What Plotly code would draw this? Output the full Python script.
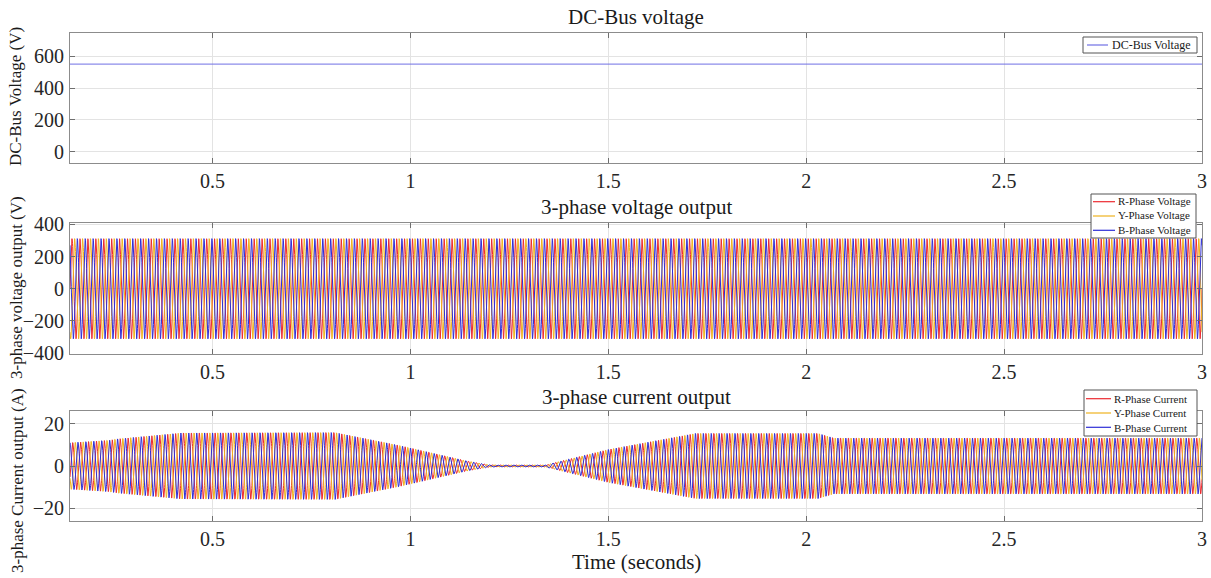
import numpy as np
import plotly.graph_objects as go

# ---------------- data ----------------
t_start, t_end = 0.14, 3.0
freq_hz = 50.0
dc_bus_voltage = 550.0
phase_voltage_peak = 311.0
phase_shifts_deg = [0, -120, 120]          # R, Y, B
phase_names_v = ["R-Phase Voltage", "Y-Phase Voltage", "B-Phase Voltage"]
phase_names_i = ["R-Phase Current", "Y-Phase Current", "B-Phase Current"]
phase_colors = ["#ec2a2f", "#efb320", "#2e2ed6"]
dc_color = "#7070e4"

# current envelope breakpoints (time s, peak A)
env_t = [0.14, 0.24, 0.26, 0.30, 0.42, 0.81, 0.97, 1.14, 1.20, 1.34, 1.50, 1.72, 2.03, 2.07, 3.00]
env_a = [11.0, 12.2, 12.8, 13.5, 15.6, 15.8, 9.8, 2.5, 0.5, 0.5, 7.8, 15.4, 15.4, 13.2, 13.2]

x_ticks = [0.5, 1, 1.5, 2, 2.5, 3]
y1_ticks = [0, 200, 400, 600]
y2_ticks = [-400, -200, 0, 200, 400]
y3_ticks = [-20, 0, 20]

# ---------------- build signals ----------------
t = np.arange(t_start, t_end + 1e-9, 0.0004)
env = np.interp(t, env_t, env_a)

W, H = 1211, 578
font_family = "Liberation Serif, Times New Roman, serif"

fig = go.Figure()

fig.add_trace(go.Scatter(x=[t_start, t_end], y=[dc_bus_voltage, dc_bus_voltage],
                         mode="lines", name="DC-Bus Voltage", showlegend=False,
                         line=dict(color=dc_color, width=1),
                         xaxis="x", yaxis="y"))

for name, col, ph in zip(phase_names_v, phase_colors, phase_shifts_deg):
    v = phase_voltage_peak * np.sin(2 * np.pi * freq_hz * t + np.deg2rad(ph))
    fig.add_trace(go.Scatter(x=t, y=v, mode="lines", name=name, showlegend=False,
                             line=dict(color=col, width=1),
                             xaxis="x2", yaxis="y2"))

for name, col, ph in zip(phase_names_i, phase_colors, phase_shifts_deg):
    i = env * np.sin(2 * np.pi * freq_hz * t + np.deg2rad(ph) - 0.5)
    fig.add_trace(go.Scatter(x=t, y=i, mode="lines", name=name, showlegend=False,
                             line=dict(color=col, width=1),
                             xaxis="x3", yaxis="y3"))

# ---------------- layout ----------------
def px_x(p):
    return p / W

def py_y(p):
    return 1 - p / H

xdom = [px_x(70), px_x(1202)]
panels = [(33, 163), (223, 354), (411, 521)]
yranges = [[-70, 745], [-405, 408], [-26, 26]]
yticks = [y1_ticks, y2_ticks, y3_ticks]

axis_common = dict(showline=True, linecolor="#8c8c8c", linewidth=1, mirror="ticks",
                   ticks="inside", ticklen=5, tickcolor="#6e6e6e", automargin=False,
                   showgrid=True, gridcolor="#e3e3e3", gridwidth=1, zeroline=False,
                   tickfont=dict(family=font_family, size=20, color="#262626"))

layout = dict(width=W, height=H, autosize=False,
              margin=dict(l=0, r=0, t=0, b=0, pad=0, autoexpand=False),
              paper_bgcolor="white", plot_bgcolor="white", showlegend=False,
              font=dict(family=font_family, color="#262626"))

for k, ((top, bot), yr, yt) in enumerate(zip(panels, yranges, yticks)):
    sfx = "" if k == 0 else str(k + 1)
    layout["xaxis" + sfx] = dict(axis_common, domain=xdom, range=[t_start, t_end],
                                 tickvals=x_ticks, anchor="y" + sfx,
                                 ticklabelstandoff=0, ticklabeloverflow="allow")
    layout["yaxis" + sfx] = dict(axis_common, domain=[py_y(bot), py_y(top)], range=yr,
                                 tickvals=yt, anchor="x" + sfx, ticklabelstandoff=1)

annotations = []
shapes = []

titles = [("DC-Bus voltage", 17), ("3-phase voltage output", 207), ("3-phase current output", 397)]
for txt, yy in titles:
    annotations.append(dict(text=txt, x=px_x(636), y=py_y(yy), xref="paper", yref="paper",
                            showarrow=False, xanchor="center", yanchor="middle",
                            font=dict(family=font_family, size=21, color="#1a1a1a")))
ytitles = [("DC-Bus Voltage (V)", 15, 97), ("3-phase voltage output (V)", 16, 288),
           ("3-phase Current output (A)", 17, 481)]
for txt, xx, yy in ytitles:
    annotations.append(dict(text=txt, x=px_x(xx), y=py_y(yy), xref="paper", yref="paper",
                            showarrow=False, xanchor="center", yanchor="middle", textangle=-90,
                            font=dict(family=font_family, size=17, color="#1a1a1a")))
annotations.append(dict(text="Time (seconds)", x=px_x(636), y=py_y(562), xref="paper", yref="paper",
                        showarrow=False, xanchor="center", yanchor="middle",
                        font=dict(family=font_family, size=21, color="#1a1a1a")))

# compact MATLAB-style legends (box, line samples, one multi-line label block)
LEG_FONT = 11
ROW = LEG_FONT * 1.3
legends = [
    dict(box=(1083, 37, 1197, 53), line=(1087, 1108), text_x=1110, mid=45,
         names=["DC-Bus Voltage"], colors=[dc_color], size=12),
    dict(box=(1091, 194, 1196, 238), line=(1093, 1115), text_x=1116, mid=216,
         names=phase_names_v, colors=phase_colors, size=LEG_FONT),
    dict(box=(1084, 390, 1197, 436), line=(1086, 1111), text_x=1112, mid=413,
         names=phase_names_i, colors=phase_colors, size=LEG_FONT),
]
for lg in legends:
    x0, y0, x1, y1 = lg["box"]
    shapes.append(dict(type="rect", xref="paper", yref="paper",
                       x0=px_x(x0), x1=px_x(x1), y0=py_y(y1), y1=py_y(y0),
                       fillcolor="white", line=dict(color="#555555", width=1), layer="above"))
    n = len(lg["names"])
    for r, col in enumerate(lg["colors"]):
        yy = lg["mid"] + (r - (n - 1) / 2) * ROW
        shapes.append(dict(type="line", xref="paper", yref="paper",
                           x0=px_x(lg["line"][0]), x1=px_x(lg["line"][1]),
                           y0=py_y(yy), y1=py_y(yy), line=dict(color=col, width=1.2),
                           layer="above"))
    annotations.append(dict(text="<br>".join(lg["names"]), x=px_x(lg["text_x"]),
                            y=py_y(lg["mid"]), xref="paper", yref="paper",
                            showarrow=False, xanchor="left", yanchor="middle", align="left",
                            font=dict(family=font_family, size=lg["size"], color="#1a1a1a")))

layout["annotations"] = annotations
layout["shapes"] = shapes

fig.update_layout(**layout)
fig.write_html(
    "out.html",
    config={"displayModeBar": False},
    post_script=(
        "document.body.style.margin='0';"
        "document.body.style.overflow='hidden';"
        "document.documentElement.style.overflow='hidden';"
        "var gd=document.getElementById('{plot_id}');"
        "gd.style.position='fixed';gd.style.left='0px';gd.style.top='0px';"
    ),
)
